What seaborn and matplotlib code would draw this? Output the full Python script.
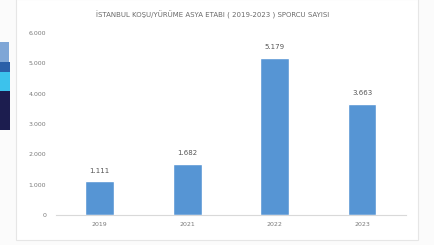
import matplotlib
matplotlib.use('Agg')
import matplotlib.pyplot as plt
import matplotlib.patches as mpatches
import seaborn as sns
import pandas as pd

years = ['2019', '2021', '2022', '2023']
athletes = [1111, 1682, 5179, 3663]
title = 'İSTANBUL KOŞU/YÜRÜME ASYA ETABI ( 2019-2023 ) SPORCU SAYISI'

df = pd.DataFrame({'Yil': years, 'Sporcu': athletes})

def tr_fmt(v):
    return f'{int(v):,}'.replace(',', '.')

sns.set_style('white')
plt.rcParams['font.family'] = ['DejaVu Sans']

fig = plt.figure(figsize=(4.34, 2.45), dpi=100)
fig.patch.set_facecolor('#fbfbfb')

# white panel behind the chart and the cut-off logo on the left
fig.patches.append(mpatches.Rectangle((0.036, 0.02), 0.928, 0.985, transform=fig.transFigure,
                                      facecolor='white', edgecolor='#e6e6e6', lw=0.8, zorder=-5))
fig.patches.append(mpatches.Rectangle((0.0, 0.47), 0.024, 0.22, transform=fig.transFigure,
                                      facecolor='#1c1d4f', edgecolor='none', zorder=-4))
fig.patches.append(mpatches.Rectangle((0.0, 0.63), 0.024, 0.075, transform=fig.transFigure,
                                      facecolor='#3cc2ec', edgecolor='none', zorder=-4))
fig.patches.append(mpatches.Rectangle((0.0, 0.705), 0.024, 0.04, transform=fig.transFigure,
                                      facecolor='#2a5fa8', edgecolor='none', zorder=-4))
fig.patches.append(mpatches.Rectangle((0.0, 0.745), 0.02, 0.085, transform=fig.transFigure,
                                      facecolor='#7fa6d6', edgecolor='none', zorder=-4))

ax = fig.add_axes([0.129, 0.122, 0.806, 0.743])
ax.set_zorder(2)
ax.set_facecolor('none')
sns.barplot(data=df, x='Yil', y='Sporcu', color='#5695d4', saturation=1,
            width=0.33, ax=ax)

ax.set_ylim(0, 6000)
ax.set_yticks(range(0, 6001, 1000))
ax.set_yticklabels([tr_fmt(t) for t in range(0, 6001, 1000)])
ax.tick_params(axis='both', length=0, labelsize=4.5, colors='#7a7a7a', pad=7)
ax.tick_params(axis='x', pad=5)

for i, v in enumerate(athletes):
    ax.text(i, v + 250, tr_fmt(v), ha='center', va='bottom', fontsize=5, color='#555555')

for s in ['top', 'right', 'left']:
    ax.spines[s].set_visible(False)
ax.spines['bottom'].set_color('#d9d9d9')
ax.spines['bottom'].set_linewidth(0.8)
ax.set_xlabel('')
ax.set_ylabel('')

fig.text(0.49, 0.94, title, ha='center', va='center', fontsize=5, color='#6a6a6a')

fig.savefig('out.png', dpi=100)
